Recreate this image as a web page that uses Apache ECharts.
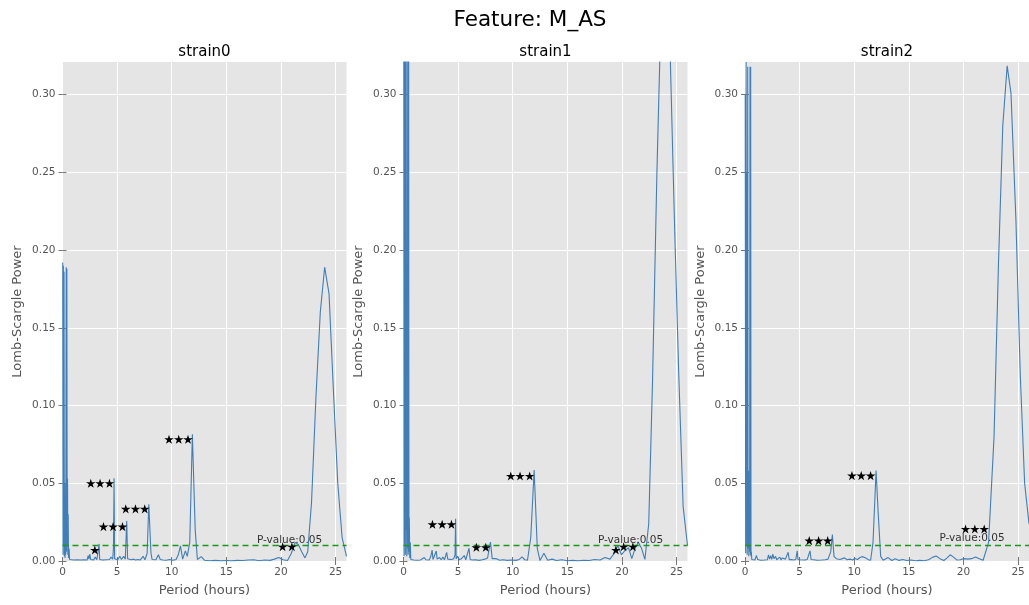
<!DOCTYPE html>
<html><head><meta charset="utf-8">
<script src="https://cdn.jsdelivr.net/npm/echarts@6/dist/echarts.min.js"></script>
<style>html,body{margin:0;padding:0;background:#fff}#c{width:1029px;height:605px}</style>
</head><body><div id="c"></div>
<script>
const figureTitle = 'Feature: M_AS';
const panelTitles = ['strain0', 'strain1', 'strain2'];
const xAxisName = 'Period (hours)';
const yAxisName = 'Lomb-Scargle Power';
const xTickValues = [0, 5, 10, 15, 20, 25];
const yTickValues = [0, 0.05, 0.10, 0.15, 0.20, 0.25, 0.30];

const strain0Period = [0.02,0.05,0.08,0.11,0.14,0.17,0.20,0.23,0.27,0.30,0.34,0.37,0.40,0.43,0.46,0.49,0.52,0.55,0.60,0.65,
 0.75,0.85,0.95,1.05,1.2,1.35,1.5,1.65,1.8,1.95,2.1,2.25,2.35,2.42,2.5,2.58,2.7,2.85,3.0,3.15,3.3,3.35,3.4,3.55,3.7,3.85,4.0,4.15,4.3,4.45,4.6,4.67,4.72,4.77,4.9,5.05,5.25,5.4,5.6,5.75,5.88,5.96,6.1,6.3,6.5,6.7,6.9,7.1,7.38,7.55,7.75,7.9,7.98,8.1,8.2,8.35,8.55,8.78,8.95,9.2,9.5,9.8,10.1,10.4,10.6,10.8,11.0,11.25,11.42,11.65,11.89,12.15,12.35,12.7,13.0,13.5,14.0,14.5,15.0,15.5,16.0,16.5,17.0,17.5,18.0,18.5,19.0,19.4,19.8,20.2,20.6,20.95,21.3,21.6,21.9,22.2,22.45,22.8,23.2,23.6,24.0,24.4,24.8,25.2,25.6,26.0];
const strain0Power = [0.192,0.004,0.190,0.010,0.186,0.003,0.050,0.002,0.020,0.004,0.189,0.006,0.188,0.010,0.053,0.004,0.030,0.002,0.008,0.001,
 0.002,0.0008,0.0015,0.0006,0.0018,0.0007,0.0014,0.0006,0.0016,0.0008,0.0012,0.0006,0.0035,0.0012,0.0045,0.0010,0.0020,0.0007,0.0025,0.0008,0.0012,0.011,0.0010,0.0015,0.0006,0.0018,0.0008,0.0020,0.0010,0.0025,0.0012,0.009,0.0532,0.0015,0.0020,0.0008,0.0030,0.0010,0.0030,0.0012,0.0258,0.0015,0.0010,0.0008,0.0012,0.0006,0.0010,0.0006,0.0030,0.0008,0.0050,0.0365,0.0360,0.0050,0.0010,0.0020,0.0008,0.0040,0.0010,0.0006,0.0005,0.0010,0.0005,0.0010,0.0040,0.0097,0.0012,0.0065,0.0030,0.0120,0.0815,0.0200,0.0010,0.0028,0.0005,0.0002,0.0004,0.0001,0.0003,0.0001,0.0004,0.0003,0.0006,0.0008,0.0002,0.0006,0.0004,0.0012,0.0022,0.0008,0.0003,0.0050,0.0120,0.0105,0.0060,0.0020,0.0060,0.0380,0.1050,0.1600,0.1890,0.1720,0.1100,0.0500,0.0150,0.0030];

const strain1Period = [0.02,0.05,0.08,0.11,0.14,0.17,0.20,0.23,0.27,0.30,0.34,0.37,0.40,0.43,0.47,0.50,0.53,0.57,0.62,0.67,
 0.8,0.95,1.1,1.25,1.4,1.55,1.7,1.9,2.05,2.2,2.35,2.5,2.62,2.7,2.85,3.0,3.08,3.3,3.45,3.6,3.75,3.95,4.05,4.2,4.4,4.6,4.72,4.77,4.82,4.95,5.1,5.3,5.45,5.56,5.7,5.85,6.0,6.1,6.3,6.6,6.9,7.2,7.45,7.7,7.82,7.96,8.12,8.3,8.5,8.8,9.1,9.5,9.9,10.3,10.6,10.85,11.1,11.35,11.65,11.96,12.25,12.5,12.85,13.2,13.6,14.0,14.5,15.0,15.5,16.0,16.5,17.0,17.5,18.0,18.45,18.9,19.3,19.62,19.95,20.3,20.6,20.9,21.2,21.5,21.8,22.1,22.45,22.8,23.2,23.6,24.0,24.4,24.8,25.2,25.6,26.0];
const strain1Power = [0.40,0.003,0.40,0.010,0.38,0.004,0.40,0.020,0.038,0.003,0.40,0.008,0.058,0.004,0.40,0.006,0.028,0.002,0.012,0.001,
 0.0015,0.0006,0.0012,0.0005,0.0015,0.0006,0.0010,0.0022,0.0008,0.0015,0.0006,0.0030,0.0070,0.0010,0.0020,0.0064,0.0012,0.0022,0.0008,0.0025,0.0008,0.0056,0.0012,0.0022,0.0010,0.0015,0.0040,0.0272,0.0015,0.0030,0.0008,0.0015,0.0006,0.0035,0.0008,0.0015,0.0082,0.0010,0.0006,0.0008,0.0004,0.0008,0.0012,0.0020,0.0070,0.0122,0.0015,0.0008,0.0015,0.0005,0.0008,0.0004,0.0006,0.0004,0.0010,0.0026,0.0008,0.0005,0.0150,0.0586,0.0080,0.0003,0.0050,0.0005,0.0012,0.0003,0.0008,0.0002,0.0004,0.0001,0.0005,0.0003,0.0010,0.0006,0.0022,0.0012,0.0050,0.0100,0.0040,0.0070,0.0085,0.0015,0.0080,0.0120,0.0080,0.0010,0.0240,0.1160,0.2500,0.3600,0.4000,0.3300,0.2200,0.1200,0.0350,0.0100];

const strain2Period = [0.02,0.06,0.10,0.13,0.17,0.20,0.25,0.28,0.32,0.35,0.39,0.42,0.46,0.49,0.52,0.55,0.58,0.62,
 0.75,0.9,1.05,1.15,1.3,1.45,1.6,1.75,1.9,2.05,2.15,2.25,2.35,2.45,2.55,2.65,2.8,2.9,3.05,3.2,3.3,3.4,3.55,3.7,3.85,3.95,4.05,4.25,4.45,4.65,4.78,4.85,5.05,5.2,5.45,5.7,5.95,6.05,6.3,6.6,7.0,7.35,7.6,7.85,8.0,8.15,8.35,8.5,8.7,8.85,9.1,9.35,9.6,9.85,10.05,10.3,10.55,10.8,11.05,11.3,11.5,11.72,12.0,12.2,12.42,12.65,13.1,13.45,13.75,14.1,14.45,14.8,15.2,15.6,16.0,16.4,16.8,17.2,17.5,17.85,18.2,18.5,18.78,19.1,19.4,19.7,20.0,20.4,20.75,21.1,21.45,21.8,22.3,22.8,23.2,23.6,24.0,24.35,24.8,25.2,25.6,26.0];
const strain2Power = [0.30,0.005,0.321,0.010,0.25,0.004,0.318,0.008,0.058,0.003,0.040,0.006,0.318,0.004,0.318,0.003,0.006,0.001,
 0.0015,0.0006,0.0035,0.0010,0.0015,0.0005,0.0015,0.0006,0.0012,0.0008,0.0040,0.0012,0.0035,0.0010,0.0045,0.0015,0.0030,0.0008,0.0020,0.0025,0.0006,0.0020,0.0008,0.0012,0.0006,0.0056,0.0008,0.0010,0.0006,0.0010,0.0065,0.0010,0.0008,0.0012,0.0006,0.0010,0.0065,0.0010,0.0008,0.0005,0.0006,0.0008,0.0012,0.0060,0.0170,0.0030,0.0015,0.0022,0.0010,0.0018,0.0020,0.0008,0.0012,0.0007,0.0016,0.0010,0.0024,0.0028,0.0020,0.0008,0.0005,0.0120,0.0582,0.0300,0.0030,0.0005,0.0022,0.0003,0.0015,0.0004,0.0010,0.0003,0.0006,0.0002,0.0004,0.0002,0.0008,0.0025,0.0032,0.0015,0.0003,0.0020,0.0040,0.0025,0.0006,0.0008,0.0015,0.0012,0.0015,0.0025,0.0015,0.0005,0.0120,0.0800,0.1900,0.2800,0.3185,0.3010,0.2200,0.1200,0.0500,0.0240];

// significance threshold per strain
const pValueLevels = [0.0097, 0.0098, 0.0111];
const pValueLabel = 'P-value:0.05';
const pValueLabelX = 17.8;

// star markers (x, y)
const strain0StarX = [2.59,3.44,4.30, 3.75,4.63,5.49, 5.79,6.68,7.53, 9.75,10.64,11.49, 2.96, 20.15,21.00];
const strain0StarY = [0.0500,0.0500,0.0500, 0.0221,0.0221,0.0221, 0.0335,0.0335,0.0335, 0.0783,0.0783,0.0783, 0.0071, 0.0092,0.0092];
const strain1StarX = [2.65,3.54,4.39, 6.67,7.53, 9.82,10.67,11.55, 19.44, 20.15,21.00];
const strain1StarY = [0.0236,0.0236,0.0236, 0.0088,0.0088, 0.0547,0.0547,0.0547, 0.0071, 0.0092,0.0092];
const strain2StarX = [5.88,6.74,7.57, 9.79,10.64,11.50, 20.19,21.04,21.90];
const strain2StarY = [0.0131,0.0131,0.0131, 0.0549,0.0549,0.0549, 0.0206,0.0206,0.0206];

const X_MAX = 26, Y_MAX = 0.321;
const FONT = 'DejaVu Sans';
const STAR = 'path://M50 0 L61.17 34.63 L97.55 34.55 L68.07 55.87 L79.39 90.45 L50 69 L20.61 90.45 L31.93 55.87 L2.45 34.55 L38.83 34.63 Z';
const panels = [
  {period: strain0Period, power: strain0Power, starX: strain0StarX, starY: strain0StarY},
  {period: strain1Period, power: strain1Power, starX: strain1StarX, starY: strain1StarY},
  {period: strain2Period, power: strain2Power, starX: strain2StarX, starY: strain2StarY}
];
const gridLefts = [62.5, 403.5, 745];
const gridTop = 62, gridW = 284, gridH = 499;

const grids = [], xAxes = [], yAxes = [], series = [], graphics = [];
const tickStyle = {color: '#777', width: 1};
const labelStyle = {color: '#555', fontSize: 10.5, fontFamily: FONT};

panels.forEach((p, i) => {
  grids.push({left: gridLefts[i], top: gridTop, width: gridW, height: gridH,
    show: true, backgroundColor: '#e5e5e5', borderWidth: 0, containLabel: false});
  xAxes.push({gridIndex: i, type: 'value', min: 0, max: X_MAX, interval: 5, position: 'bottom',
    axisLine: {show: false},
    axisTick: {show: true, length: 4, lineStyle: tickStyle, customValues: xTickValues},
    axisLabel: Object.assign({margin: 6, customValues: xTickValues,
      formatter: v => (xTickValues.indexOf(v) >= 0 ? String(v) : '')}, labelStyle),
    splitLine: {show: true, lineStyle: {color: '#ffffff', width: 1}},
    name: xAxisName, nameLocation: 'middle', nameGap: 23,
    nameTextStyle: {color: '#555', fontSize: 13, fontFamily: FONT}});
  xAxes.push({gridIndex: i, type: 'value', min: 0, max: X_MAX, interval: 5, position: 'top',
    axisLine: {show: false},
    axisTick: {show: true, length: 4, lineStyle: tickStyle, customValues: xTickValues},
    axisLabel: {show: false}, splitLine: {show: false}});
  yAxes.push({gridIndex: i, type: 'value', min: 0, max: Y_MAX, interval: 0.05, position: 'left',
    axisLine: {show: false},
    axisTick: {show: true, length: 4, lineStyle: tickStyle, customValues: yTickValues},
    axisLabel: Object.assign({margin: 7, customValues: yTickValues,
      formatter: v => (v > 0.31 ? '' : v.toFixed(2))}, labelStyle),
    splitLine: {show: true, lineStyle: {color: '#ffffff', width: 1}},
    name: yAxisName, nameLocation: 'middle', nameGap: 38, nameRotate: 90,
    nameTextStyle: {color: '#555', fontSize: 13, fontFamily: FONT}});
  yAxes.push({gridIndex: i, type: 'value', min: 0, max: Y_MAX, interval: 0.05, position: 'right',
    axisLine: {show: false},
    axisTick: {show: true, length: 4, lineStyle: tickStyle, customValues: yTickValues},
    axisLabel: {show: false}, splitLine: {show: false}});

  series.push({type: 'line', xAxisIndex: 2 * i, yAxisIndex: 2 * i,
    data: p.period.map((x, k) => [x, p.power[k]]),
    showSymbol: false, symbol: 'none', clip: true, silent: true,
    lineStyle: {color: '#3f7eb8', width: 1.1}, z: 2,
    markLine: {silent: true, symbol: ['none', 'none'], label: {show: false},
      lineStyle: {color: '#1a9a1a', type: [6, 4], width: 1.3, opacity: 1},
      data: [{yAxis: pValueLevels[i]}]}});

  series.push({type: 'scatter', xAxisIndex: 2 * i, yAxisIndex: 2 * i, silent: true, z: 5,
    symbolSize: 1, itemStyle: {color: 'rgba(0,0,0,0)'},
    data: [{value: [pValueLabelX, pValueLevels[i]]}],
    label: {show: true, position: [0.5, 0.5], align: 'left', verticalAlign: 'bottom',
      formatter: pValueLabel, color: '#000', fontSize: 10.5, fontFamily: FONT}});

  series.push({type: 'scatter', xAxisIndex: 2 * i, yAxisIndex: 2 * i, silent: true, z: 6,
    symbol: STAR, symbolSize: [9.6, 9.1],
    itemStyle: {color: '#000', opacity: 1},
    data: p.starX.map((x, k) => [x, p.starY[k]])});

  graphics.push({type: 'text', x: gridLefts[i] + gridW / 2, y: 52,
    style: {text: panelTitles[i], fill: '#000', font: '15px "DejaVu Sans"', align: 'center', verticalAlign: 'middle'}});
});

graphics.push({type: 'text', x: 530, y: 20,
  style: {text: figureTitle, fill: '#000', font: '21.5px "DejaVu Sans"', align: 'center', verticalAlign: 'middle'}});

const chart = echarts.init(document.getElementById('c'));
chart.setOption({
  animation: false,
  backgroundColor: '#ffffff',
  grid: grids, xAxis: xAxes, yAxis: yAxes, series: series, graphic: graphics
});
</script></body></html>
